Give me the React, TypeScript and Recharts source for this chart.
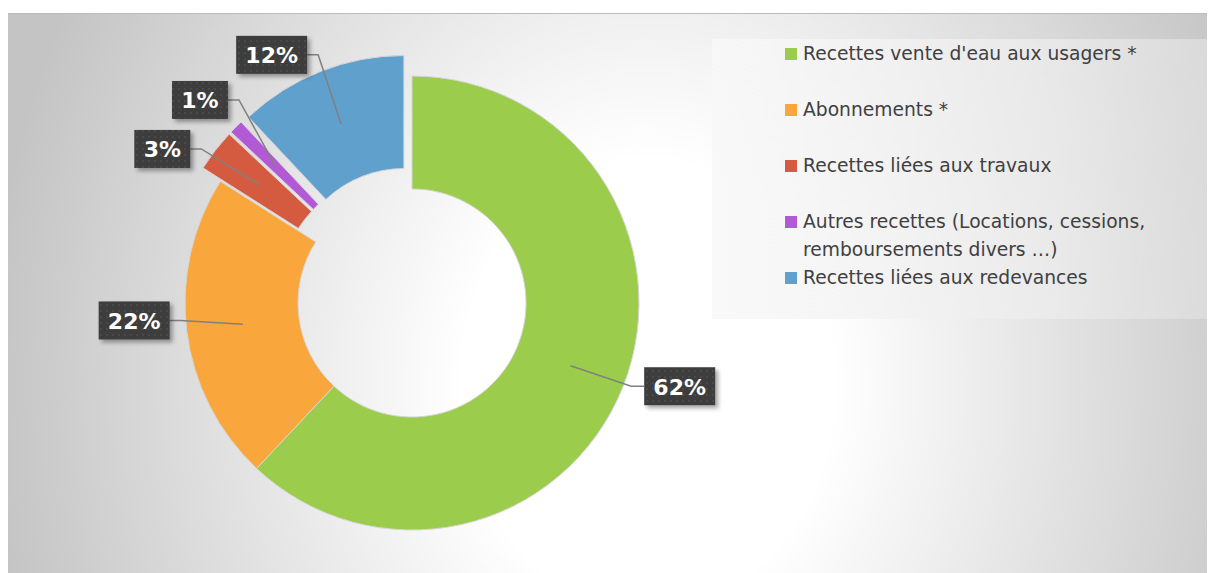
import React from 'react';
import { PieChart, Pie, Cell, Sector, Legend } from 'recharts';

const categories = [
  "Recettes vente d'eau aux usagers *",
  'Abonnements *',
  'Recettes liées aux travaux',
  'Autres recettes (Locations, cessions, remboursements divers …)',
  'Recettes liées aux redevances',
];
const shares = [62, 22, 3, 1, 12];
const percentLabels = ['62%', '22%', '3%', '1%', '12%'];

const colors = ['#9bcc4c', '#f9a73c', '#d45b3f', '#b25ad5', '#5fa0cc'];
const explodedSlices = [
  'Recettes liées aux travaux',
  'Autres recettes (Locations, cessions, remboursements divers …)',
  'Recettes liées aux redevances',
];
// hand-tuned shifts so the label boxes sit where Excel put them
const labelNudge = [
  [12, -18],
  [-5, -17],
  [-15, 28],
  [-2, 7],
  [-31, 28],
];

const data = categories.map((name, i) => ({ name, value: shares[i] }));

const RAD = Math.PI / 180;
const EXPLODE = 22;
const FONT = '"DejaVu Sans", sans-serif';

const explodeOffset = (name: string, midAngle: number) => {
  const d = explodedSlices.includes(name) ? EXPLODE : 0;
  return { dx: d * Math.cos(-midAngle * RAD), dy: d * Math.sin(-midAngle * RAD) };
};

const renderSlice = (props: any) => {
  const name = props.payload?.name ?? props.name;
  const { dx, dy } = explodeOffset(name, props.midAngle);
  return <Sector {...props} cx={props.cx + dx} cy={props.cy + dy} />;
};

const renderLabel = (props: any) => {
  const { cx, cy, midAngle, innerRadius, outerRadius, index } = props;
  const cos = Math.cos(-midAngle * RAD);
  const sin = Math.sin(-midAngle * RAD);
  const { dx, dy } = explodeOffset(categories[index], midAngle);
  const ox = cx + dx;
  const oy = cy + dy;
  const rMid = (innerRadius + outerRadius) / 2;
  const sx = ox + rMid * cos;
  const sy = oy + rMid * sin;
  const [nx, ny] = labelNudge[index];
  const bx = ox + (outerRadius + 48) * cos + nx;
  const by = oy + (outerRadius + 48) * sin + ny;
  const text = percentLabels[index];
  const w = text.length === 3 ? 71 : 56;
  const h = 38;
  const left = bx < cx;
  const edgeX = left ? bx + w / 2 : bx - w / 2;
  const elbowX = left ? edgeX + 11 : edgeX - 13;
  return (
    <g key={`lbl-${index}`}>
      <polyline
        points={`${sx},${sy} ${elbowX},${by} ${edgeX},${by}`}
        stroke="#808080"
        strokeWidth={1.5}
        fill="none"
      />
      <rect x={bx - w / 2} y={by - h / 2} width={w} height={h} fill="url(#dots)" filter="url(#boxShadow)" />
      <text
        x={bx}
        y={by + 1}
        textAnchor="middle"
        dominantBaseline="central"
        fill="#ffffff"
        fontFamily={FONT}
        fontWeight="bold"
        fontSize={22}
      >
        {text}
      </text>
    </g>
  );
};

// legend keeps the series order (recharts would sort the payload by name)
const renderLegend = () => (
  <div
    style={{
      width: 498,
      height: 280,
      boxSizing: 'border-box',
      padding: '1px 0 0 73px',
      background: 'linear-gradient(90deg, rgba(248,248,248,0.9) 0%, rgba(236,236,236,0.75) 70%, rgba(222,222,222,0.8) 100%)',
      fontFamily: FONT,
      fontSize: 18.7,
      color: '#404040',
    }}
  >
    {categories.map((name, i) => (
      <div key={`leg-${i}`} style={{ display: 'flex', height: 56, lineHeight: '28px' }}>
        <div style={{ width: 12, height: 12, background: colors[i], marginTop: 8, marginRight: 6, flex: 'none' }} />
        <div style={{ width: 355 }}>{name}</div>
      </div>
    ))}
  </div>
);

export default function App() {
  return (
    <div style={{ paddingTop: 5 }}>
      <div
        style={{
          width: 1207,
          height: 560,
          boxSizing: 'border-box',
          borderTop: '1px solid #bcbcbc',
          background: 'radial-gradient(ellipse 660px 800px at 640px 370px, #ffffff 28%, #c4c4c4 100%)',
        }}
      >
        <PieChart width={1207} height={559} margin={{ top: 0, right: 0, bottom: 0, left: 0 }}>
          <defs>
            <pattern id="dots" width="6" height="6" patternUnits="userSpaceOnUse">
              <rect width="6" height="6" fill="#3d3d3d" />
              <circle cx="3" cy="3" r="0.9" fill="#4e4e4e" />
            </pattern>
            <filter id="boxShadow" x="-20%" y="-20%" width="150%" height="160%">
              <feDropShadow dx="3" dy="3" stdDeviation="2" floodColor="#000" floodOpacity="0.35" />
            </filter>
          </defs>
          <Pie
            data={data}
            dataKey="value"
            nameKey="name"
            cx={404}
            cy={289}
            innerRadius={114}
            outerRadius={227}
            startAngle={90}
            endAngle={-270}
            stroke="#d6d6d6"
            strokeWidth={1}
            shape={renderSlice}
            label={renderLabel}
            labelLine={false}
            isAnimationActive={false}
          >
            {data.map((_, i) => (
              <Cell key={`cell-${i}`} fill={colors[i]} />
            ))}
          </Pie>
          <Legend
            content={renderLegend}
            layout="vertical"
            verticalAlign="top"
            align="right"
            wrapperStyle={{ left: 704, top: 25, width: 498 }}
          />
        </PieChart>
      </div>
    </div>
  );
}
